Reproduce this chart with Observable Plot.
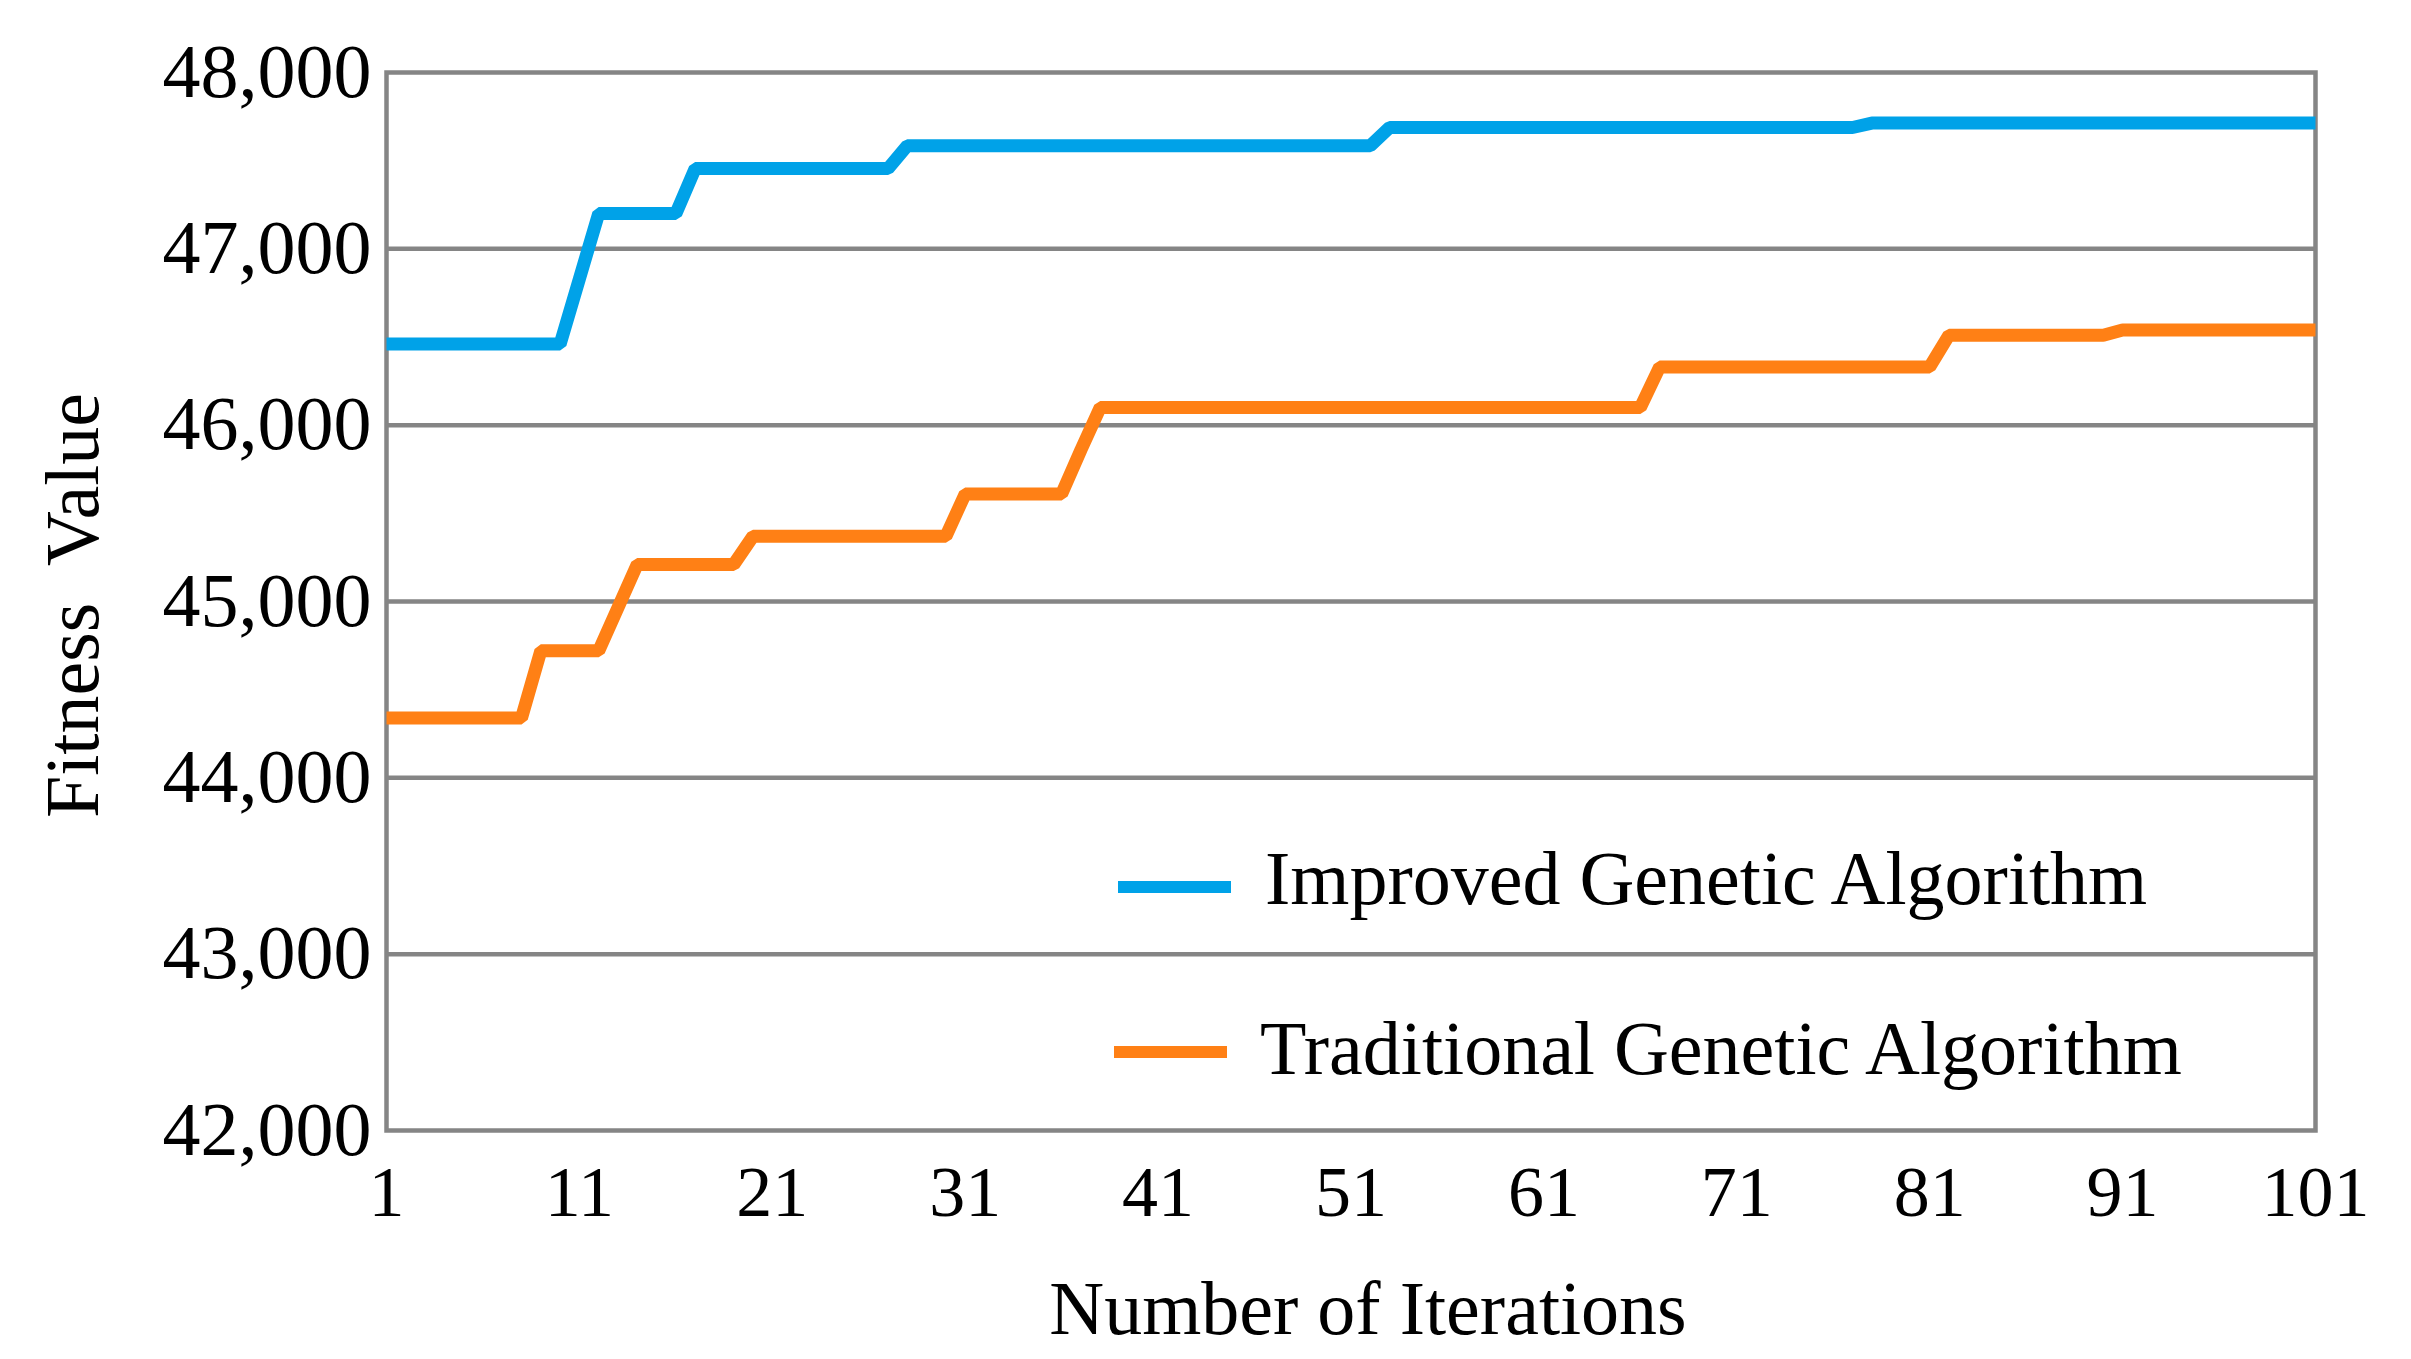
<!DOCTYPE html>
<html>
<head>
<meta charset="utf-8">
<script src="https://cdn.jsdelivr.net/npm/d3@7"></script>
<script src="https://cdn.jsdelivr.net/npm/@observablehq/plot@0.6"></script>
<style>
  html, body { margin: 0; padding: 0; background: #ffffff; }
  #wrap { position: relative; width: 2411px; height: 1359px; }
  .lg-swatch { position: absolute; height: 12px; }
  .lg-text { position: absolute; font-family: "Liberation Serif", serif; font-size: 76px; line-height: 76px; color: #000; white-space: nowrap; }
</style>
</head>
<body>
<div id="wrap"></div>
<script>
// ---- data ----
const seriesNames = ["Improved Genetic Algorithm", "Traditional Genetic Algorithm"];
const seriesColors = ["#00A2E8", "#FF8015"];
const iterations = d3.range(1, 102);
const improved = [
  46460, 46460, 46460, 46460, 46460, 46460, 46460, 46460, 46460, 46460,
  46830,
  47200, 47200, 47200, 47200, 47200,
  47455, 47455, 47455, 47455, 47455, 47455, 47455, 47455, 47455, 47455, 47455,
  47585, 47585, 47585, 47585, 47585, 47585, 47585, 47585, 47585, 47585,
  47585, 47585, 47585, 47585, 47585, 47585, 47585, 47585, 47585, 47585,
  47585, 47585, 47585, 47585, 47585,
  47688, 47688, 47688, 47688, 47688, 47688, 47688, 47688, 47688, 47688,
  47688, 47688, 47688, 47688, 47688, 47688, 47688, 47688, 47688, 47688,
  47688, 47688, 47688, 47688, 47688,
  47713, 47713, 47713, 47713, 47713, 47713, 47713, 47713, 47713, 47713,
  47713, 47713, 47713, 47713, 47713, 47713, 47713, 47713, 47713, 47713,
  47713, 47713, 47713, 47713
];
const traditional = [
  44340, 44340, 44340, 44340, 44340, 44340, 44340, 44340,
  44720, 44720, 44720, 44720,
  44965,
  45210, 45210, 45210, 45210, 45210, 45210,
  45370, 45370, 45370, 45370, 45370, 45370, 45370, 45370, 45370, 45370, 45370,
  45610, 45610, 45610, 45610, 45610, 45610,
  45860,
  46100, 46100, 46100, 46100, 46100, 46100, 46100, 46100, 46100, 46100,
  46100, 46100, 46100, 46100, 46100, 46100, 46100, 46100, 46100, 46100,
  46100, 46100, 46100, 46100, 46100, 46100, 46100, 46100, 46100,
  46330, 46330, 46330, 46330, 46330, 46330, 46330, 46330, 46330, 46330,
  46330, 46330, 46330, 46330, 46330,
  46510, 46510, 46510, 46510, 46510, 46510, 46510, 46510, 46510,
  46540, 46540, 46540, 46540, 46540, 46540, 46540, 46540, 46540, 46540, 46540
];
const xTicks = [1, 11, 21, 31, 41, 51, 61, 71, 81, 91, 101];
const yTicks = [42000, 43000, 44000, 45000, 46000, 47000, 48000];
const xTitle = "Number of Iterations";
const yTitle = "Fitness\u00a0 Value";

// ---- table ----
const rows = [];
iterations.forEach((it, i) => {
  rows.push({iteration: it, value: improved[i], series: seriesNames[0]});
});
iterations.forEach((it, i) => {
  rows.push({iteration: it, value: traditional[i], series: seriesNames[1]});
});

const gray = "#858585";
const font = "Liberation Serif";

const chart = Plot.plot({
  width: 2411,
  height: 1359,
  marginLeft: 386,
  marginRight: 96,
  marginTop: 72,
  marginBottom: 229,
  style: {fontFamily: font, fontSize: "76px", color: "#000", background: "#ffffff", overflow: "visible"},
  x: {domain: [1, 101], axis: null},
  y: {domain: [42000, 48000], axis: null},
  color: {domain: seriesNames, range: seriesColors},
  marks: [
    Plot.gridY(yTicks.slice(1, -1), {stroke: gray, strokeOpacity: 1, strokeWidth: 4.5}),
    Plot.frame({stroke: gray, strokeWidth: 4.5}),
    Plot.line(rows, {
      x: "iteration", y: "value", z: "series", stroke: "series",
      strokeWidth: 13, strokeLinejoin: "miter", strokeLinecap: "butt"
    }),
    Plot.axisY({
      ticks: yTicks, tickFormat: d3.format(","), tickSize: 0, tickPadding: 15,
      fontSize: 76, fontFamily: font, label: null
    }),
    Plot.axisX({
      ticks: xTicks, tickFormat: d => String(d), tickSize: 0, tickPadding: 34,
      fontSize: 72, fontFamily: font, label: null
    }),
    Plot.text([xTitle], {
      frameAnchor: "bottom", dy: 203, dx: 17, fontSize: 76, fontFamily: font, fill: "#000"
    }),
    Plot.text([yTitle], {
      frameAnchor: "left", textAnchor: "middle", dx: -313, dy: 4, rotate: -90,
      fontSize: 76, fontFamily: font, fill: "#000"
    })
  ]
});

const wrap = document.getElementById("wrap");
wrap.appendChild(chart);

// ---- legend (inside the plot area) ----
const legendItems = [
  {name: seriesNames[0], color: seriesColors[0], swLeft: 1118, swTop: 881, txLeft: 1265, txTop: 840},
  {name: seriesNames[1], color: seriesColors[1], swLeft: 1114, swTop: 1046, txLeft: 1260, txTop: 1010}
];
legendItems.forEach(it => {
  const sw = document.createElement("div");
  sw.className = "lg-swatch";
  sw.style.left = it.swLeft + "px";
  sw.style.top = it.swTop + "px";
  sw.style.width = "113px";
  sw.style.background = it.color;
  wrap.appendChild(sw);
  const tx = document.createElement("div");
  tx.className = "lg-text";
  tx.style.left = it.txLeft + "px";
  tx.style.top = it.txTop + "px";
  tx.textContent = it.name;
  wrap.appendChild(tx);
});
</script>
</body>
</html>
